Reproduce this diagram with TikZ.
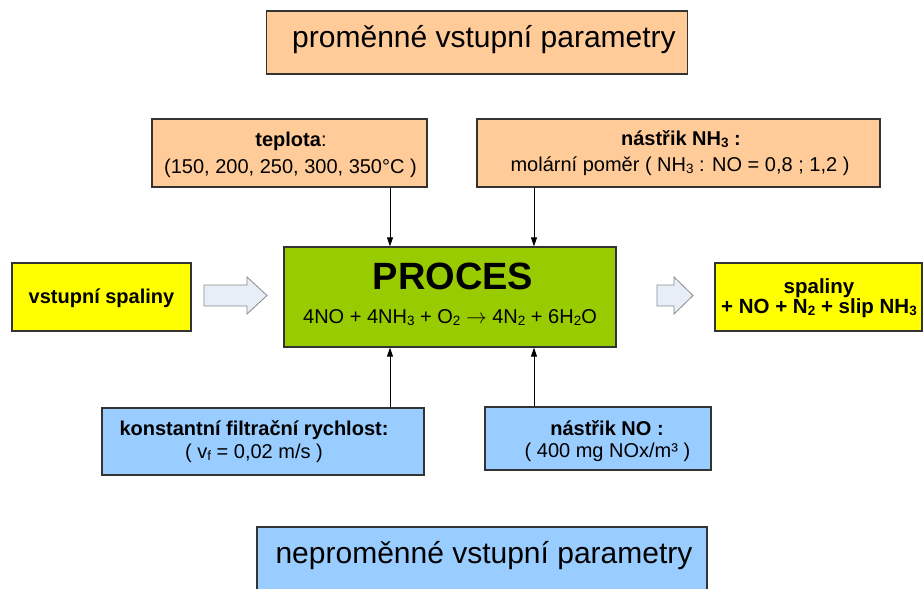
\documentclass[tikz,border=0pt]{standalone}
\usepackage{fontspec}
\setmainfont{Liberation Sans}
\usetikzlibrary{arrows.meta}
\definecolor{peach}{HTML}{FFCC99}
\definecolor{lime}{HTML}{99CC00}
\definecolor{yel}{HTML}{FFFF00}
\definecolor{sky}{HTML}{99CCFF}
\definecolor{arrfill}{HTML}{E8EEF8}
\definecolor{arredge}{HTML}{8A8A8A}
\definecolor{edge}{HTML}{333333}
\newcommand\sbs[1]{\raisebox{-0.1em}{\fontsize{13.5}{13.5}\selectfont #1}}
\tikzset{
  box/.style={draw=edge,line width=1.3pt,inner sep=0pt,minimum width=#1},
  txt/.style={anchor=base,inner sep=0pt,font=\fontsize{20}{24}\selectfont},
  big/.style={anchor=base,inner sep=0pt,font=\fontsize{30}{36}\selectfont},
  conn/.style={line width=1pt,-{Triangle[width=6pt,length=9pt]}},
  blockarrow/.style={draw=arredge,fill=arrfill,line width=0.8pt,line join=miter}
}
\begin{document}
\begin{tikzpicture}[x=1pt,y=-1pt]
\clip (0,0) rectangle (924,589);
\fill[white] (0,0) rectangle (924,589);

% boxes
\node[box=421pt,minimum height=63pt,fill=peach] (top) at (477,42.5) {};
\node[box=275pt,minimum height=68pt,fill=peach] (tep) at (289.5,153) {};
\node[box=403pt,minimum height=68pt,fill=peach] (nh3) at (678.5,153) {};
\node[box=332pt,minimum height=100pt,fill=lime] (proc) at (450,297) {};
\node[box=179pt,minimum height=68pt,fill=yel] (vst) at (101.5,297) {};
\node[box=207pt,minimum height=68pt,fill=yel] (out) at (818.5,297) {};
\node[box=322pt,minimum height=67pt,fill=sky] (filt) at (263,441.5) {};
\node[box=226pt,minimum height=63pt,fill=sky] (no) at (598,438.5) {};
\node[box=450pt,minimum height=80pt,fill=sky] (bot) at (482,567) {};

% texts
\node[big] (toptxt) at (484,47) {proměnné vstupní parametry};
\node[big] (bottxt) at (484,563) {neproměnné vstupní parametry};

\node[txt] (tep1) at (291,146.5) {\textbf{teplota}:};
\node[txt] (tep2) at (290.5,173) {(150, 200, 250, 300, 350°C )};

\node[txt] (nh31) at (681,145) {\textbf{nástřik NH\sbs{3} :}};
\node[txt] (nh32) at (680,171.5) {molární poměr ( NH\sbs{3} : NO = 0,8 ; 1,2 )};

\node[anchor=base,inner sep=0pt,font=\fontsize{38}{40}\selectfont\bfseries] (proctxt) at (453,289.5) {PROCES};
\node[txt] (eq) at (450,323) {4NO + 4NH\sbs{3} + O\sbs{2} \(\rightarrow\) 4N\sbs{2} + 6H\sbs{2}O};

\node[txt,font=\fontsize{20}{24}\selectfont\bfseries] (vsttxt) at (101.5,303) {vstupní spaliny};

\node[txt,font=\fontsize{20.5}{24}\selectfont\bfseries] (out1) at (819,293) {spaliny};
\node[txt,font=\fontsize{20.5}{24}\selectfont\bfseries] (out2) at (819,313.5) {+ NO + N\sbs{2} + slip NH\sbs{3}};

\node[txt] (filt1) at (254,435) {\textbf{konstantní filtrační rychlost:}};
\node[txt] (filt2) at (254,458) {( v\sbs{f} = 0,02 m/s )};

\node[txt] (no1) at (607,435) {\textbf{nástřik NO :}};
\node[txt] (no2) at (607.5,457.5) {( 400 mg NOx/m³ )};

% connectors
\coordinate (xa) at (390,0);
\coordinate (xb) at (534,0);
\draw[conn] (tep.south -| xa) -- (proc.north -| xa);
\draw[conn] (nh3.south -| xb) -- (proc.north -| xb);
\draw[conn] (filt.north -| xa) -- (proc.south -| xa);
\draw[conn] (no.north -| xb) -- (proc.south -| xb);

% block arrows
\draw[blockarrow] (204,285) -- (247,285) -- (247,277) -- (267,295.5) -- (247,314) -- (247,306) -- (204,306) -- cycle;
\draw[blockarrow] (657,285) -- (674,285) -- (674,277) -- (693,295.5) -- (674,314) -- (674,306) -- (657,306) -- cycle;
\end{tikzpicture}
\end{document}
